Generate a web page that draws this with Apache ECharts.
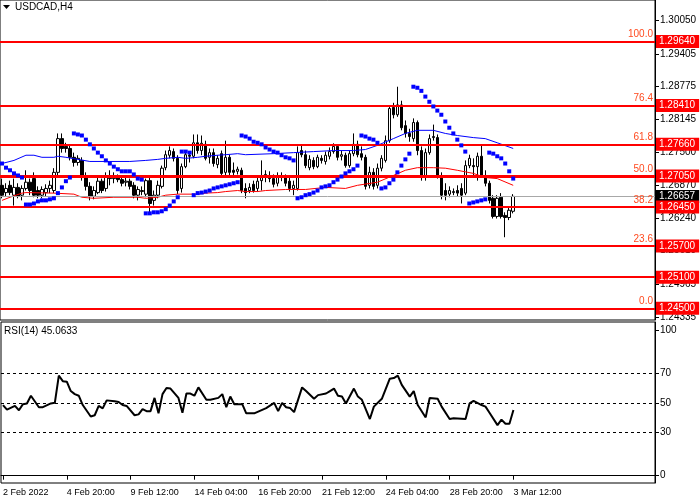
<!DOCTYPE html>
<html>
<head>
<meta charset="utf-8">
<script src="https://cdn.jsdelivr.net/npm/echarts@6/dist/echarts.min.js"></script>
<style>
html, body { margin: 0; padding: 0; background: #fff; }
#main { width: 700px; height: 500px; }
</style>
</head>
<body>
<div id="main"></div>
<script>
// USDCAD H4 bars, each [open, close, low, high]
var candles = [
  [1.2687,1.2668,1.2662,1.2700],[1.2673,1.2681,1.2666,1.2691],[1.2687,1.2673,1.2668,1.2696],[1.2668,1.2683,1.2648,1.2700],
  [1.2683,1.2666,1.2662,1.2691],[1.2668,1.2681,1.2658,1.2687],[1.2681,1.2693,1.2677,1.2716],[1.2693,1.2677,1.2668,1.2700],
  [1.2700,1.2668,1.2664,1.2712],[1.2677,1.2668,1.2662,1.2685],[1.2668,1.2679,1.2662,1.2685],[1.2673,1.2681,1.2666,1.2689],
  [1.2681,1.2687,1.2672,1.2696],[1.2677,1.2712,1.2672,1.2720],[1.2712,1.2777,1.2706,1.2787],[1.2777,1.2758,1.2750,1.2787],
  [1.2762,1.2758,1.2750,1.2769],[1.2758,1.2741,1.2735,1.2764],[1.2741,1.2731,1.2723,1.2750],[1.2731,1.2739,1.2725,1.2745],
  [1.2735,1.2702,1.2696,1.2741],[1.2704,1.2685,1.2677,1.2712],[1.2685,1.2666,1.2658,1.2693],[1.2666,1.2677,1.2660,1.2685],
  [1.2673,1.2695,1.2670,1.2706],[1.2695,1.2677,1.2672,1.2700],[1.2681,1.2704,1.2675,1.2712],[1.2702,1.2700,1.2687,1.2716],
  [1.2700,1.2702,1.2691,1.2712],[1.2702,1.2698,1.2693,1.2708],[1.2698,1.2691,1.2685,1.2704],[1.2693,1.2695,1.2685,1.2702],
  [1.2695,1.2685,1.2679,1.2700],[1.2687,1.2668,1.2662,1.2693],[1.2668,1.2679,1.2658,1.2685],[1.2675,1.2677,1.2668,1.2685],
  [1.2670,1.2696,1.2664,1.2700],[1.2696,1.2652,1.2635,1.2704],[1.2658,1.2668,1.2648,1.2677],[1.2668,1.2687,1.2662,1.2696],
  [1.2685,1.2720,1.2681,1.2725],[1.2721,1.2746,1.2716,1.2754],[1.2745,1.2754,1.2739,1.2762],[1.2752,1.2739,1.2733,1.2758],
  [1.2739,1.2677,1.2670,1.2745],[1.2681,1.2723,1.2673,1.2729],[1.2723,1.2746,1.2720,1.2750],[1.2745,1.2743,1.2731,1.2748],
  [1.2743,1.2769,1.2739,1.2785],[1.2769,1.2754,1.2748,1.2785],[1.2754,1.2768,1.2745,1.2783],[1.2766,1.2739,1.2735,1.2773],
  [1.2741,1.2750,1.2729,1.2758],[1.2750,1.2729,1.2723,1.2758],[1.2727,1.2739,1.2720,1.2745],[1.2748,1.2710,1.2704,1.2754],
  [1.2712,1.2741,1.2706,1.2773],[1.2741,1.2712,1.2706,1.2746],[1.2716,1.2712,1.2704,1.2731],[1.2714,1.2718,1.2708,1.2723],
  [1.2716,1.2677,1.2672,1.2721],[1.2681,1.2673,1.2662,1.2691],[1.2677,1.2683,1.2672,1.2691],[1.2689,1.2677,1.2673,1.2696],
  [1.2681,1.2695,1.2675,1.2706],[1.2696,1.2702,1.2677,1.2735],[1.2702,1.2708,1.2693,1.2716],[1.2706,1.2700,1.2693,1.2714],
  [1.2700,1.2689,1.2683,1.2708],[1.2691,1.2704,1.2685,1.2712],[1.2704,1.2702,1.2695,1.2712],[1.2702,1.2691,1.2685,1.2708],
  [1.2695,1.2681,1.2675,1.2702],[1.2681,1.2687,1.2668,1.2696],[1.2681,1.2750,1.2677,1.2762],[1.2754,1.2746,1.2741,1.2764],
  [1.2746,1.2725,1.2720,1.2754],[1.2721,1.2737,1.2716,1.2745],[1.2735,1.2723,1.2718,1.2741],[1.2723,1.2741,1.2720,1.2746],
  [1.2739,1.2735,1.2729,1.2745],[1.2733,1.2745,1.2727,1.2752],[1.2743,1.2752,1.2737,1.2760],[1.2752,1.2762,1.2748,1.2768],
  [1.2762,1.2741,1.2735,1.2766],[1.2743,1.2746,1.2735,1.2754],[1.2745,1.2725,1.2721,1.2750],[1.2725,1.2748,1.2721,1.2754],
  [1.2748,1.2766,1.2743,1.2787],[1.2766,1.2746,1.2741,1.2773],[1.2748,1.2741,1.2735,1.2762],[1.2741,1.2685,1.2679,1.2746],
  [1.2687,1.2712,1.2681,1.2723],[1.2712,1.2685,1.2679,1.2720],[1.2687,1.2720,1.2681,1.2729],[1.2720,1.2739,1.2714,1.2745],
  [1.2735,1.2773,1.2731,1.2783],[1.2773,1.2835,1.2769,1.2840],[1.2837,1.2823,1.2816,1.2846],[1.2823,1.2842,1.2819,1.2877],
  [1.2842,1.2798,1.2793,1.2850],[1.2802,1.2787,1.2779,1.2812],[1.2787,1.2781,1.2771,1.2796],[1.2777,1.2808,1.2771,1.2816],
  [1.2808,1.2754,1.2745,1.2812],[1.2754,1.2702,1.2696,1.2762],[1.2706,1.2750,1.2696,1.2758],[1.2750,1.2777,1.2746,1.2785],
  [1.2779,1.2781,1.2773,1.2804],[1.2779,1.2706,1.2700,1.2785],[1.2704,1.2668,1.2660,1.2712],[1.2677,1.2668,1.2658,1.2691],
  [1.2670,1.2677,1.2664,1.2685],[1.2673,1.2675,1.2668,1.2681],[1.2677,1.2672,1.2666,1.2687],[1.2681,1.2668,1.2652,1.2691],
  [1.2672,1.2725,1.2668,1.2735],[1.2725,1.2739,1.2720,1.2746],[1.2725,1.2723,1.2706,1.2739],[1.2723,1.2743,1.2696,1.2750],
  [1.2743,1.2706,1.2702,1.2764],[1.2706,1.2691,1.2685,1.2716],[1.2691,1.2658,1.2652,1.2696],[1.2662,1.2627,1.2623,1.2668],
  [1.2627,1.2662,1.2623,1.2668],[1.2664,1.2627,1.2623,1.2672],[1.2629,1.2625,1.2587,1.2635],[1.2625,1.2639,1.2620,1.2645],
  [1.2637,1.26657,1.2633,1.2670]
];

// Parabolic SAR, one value per bar
var sar = [
  1.2729,1.2721,1.2716,1.2710,1.2706,1.2702,
  1.2650,1.2650,1.2652,1.2656,1.2658,1.2658,1.2660,1.2662,1.2672,1.2683,1.2695,1.2702,
  1.2787,1.2785,1.2783,1.2775,1.2766,1.2758,1.2750,1.2743,1.2735,1.2729,1.2723,1.2718,1.2714,1.2714,1.2714,1.2708,1.2700,1.2698,
  1.2633,1.2633,1.2635,1.2635,1.2637,1.2641,1.2648,1.2656,1.2664,
  1.2752,1.2752,1.2750,
  1.2668,1.2672,1.2673,1.2675,1.2677,1.2681,1.2683,1.2685,1.2687,1.2689,1.2691,1.2693,
  1.2783,1.2781,1.2777,1.2771,1.2769,1.2766,1.2760,1.2756,1.2752,1.2750,1.2745,1.2741,1.2739,1.2735,
  1.2662,1.2664,1.2668,1.2670,1.2673,1.2677,1.2683,1.2685,1.2687,1.2693,1.2698,1.2704,1.2710,1.2714,1.2718,1.2725,
  1.2783,1.2781,1.2777,1.2775,1.2769,
  1.2681,1.2683,1.2691,1.2698,1.2712,1.2725,1.2737,1.2748,
  1.2877,1.2875,1.2869,1.2858,1.2848,1.2839,1.2831,1.2823,1.2810,1.2798,1.2787,1.2775,1.2764,1.2752,
  1.2652,1.2654,1.2656,1.2658,1.2660,
  1.2750,1.2748,1.2743,1.2739,1.2729,1.2714,1.2700
];

// envelope bands, [bar index, price]
var envUpper = [
  [0,1.2729],[3,1.2735],[6,1.2745],[8,1.2745],[10,1.2741],[13,1.2741],[14,1.2743],[16,1.2741],[19,1.2737],
  [22,1.2733],[27,1.2733],[32,1.2733],[36,1.2735],[39,1.2737],[41,1.2739],[44,1.2741],[46,1.2739],[49,1.2741],
  [51,1.2743],[54,1.2745],[56,1.2746],[59,1.2748],[61,1.2746],[68,1.2748],[73,1.2750],[78,1.2752],[83,1.2754],
  [88,1.2754],[91,1.2756],[94,1.2764],[98,1.2777],[101,1.2787],[104,1.2793],[108,1.2793],[111,1.2787],
  [114,1.2783],[118,1.2779],[121,1.2777],[124,1.2769],[128,1.2758]
];
var envLower = [
  [0,1.2658],[2,1.2664],[5,1.2672],[6,1.2673],[13,1.2672],[18,1.2670],[20,1.2664],[23,1.2662],[28,1.2664],
  [34,1.2664],[36,1.2662],[39,1.2664],[41,1.2668],[44,1.2670],[49,1.2670],[51,1.2672],[54,1.2673],[56,1.2675],
  [59,1.2677],[61,1.2675],[64,1.2675],[66,1.2677],[71,1.2679],[76,1.2679],[81,1.2683],[86,1.2681],[89,1.2687],
  [94,1.2693],[98,1.2706],[101,1.2716],[104,1.2721],[108,1.2721],[111,1.2720],[114,1.2716],[118,1.2710],
  [121,1.2702],[124,1.2700],[128,1.2687]
];

// RSI(14), [bar index, value]
var rsi = [
  [0,48.5],[1,45.3],[3,47.9],[4,44.9],[5,49.1],[6,49.6],[7,54.9],[9,47],[10,47],[12,49.6],[13,50],[14,68.7],
  [15,64.9],[16,64.5],[17,58.1],[18,56],[19,54.9],[20,48.5],[22,40.6],[23,41.5],[24,47.9],[25,46.2],[26,51.7],
  [28,51.1],[29,50.6],[30,48.5],[31,47.9],[33,41.5],[34,42.1],[35,45.7],[36,44.3],[37,44.3],[38,53.4],[39,42.8],
  [40,56],[41,60.2],[42,59.8],[44,53.4],[45,43.2],[46,56.4],[47,56.4],[48,54.9],[49,60.6],[51,52.1],[52,52.1],
  [54,53.4],[55,56],[56,47],[57,54.3],[58,49.1],[60,49.1],[61,42.8],[63,42.8],[66,46.4],[68,50],[69,44.3],[70,50],
  [71,47],[72,46.4],[73,43.6],[75,60.6],[76,58.1],[78,52.8],[79,55.3],[81,56.4],[82,58.1],[83,59.8],[84,54.9],
  [85,54.3],[86,49.6],[88,59.8],[89,54.3],[90,52.1],[92,38.9],[93,47.4],[95,52.8],[97,66.6],[98,67],[99,68.7],
  [100,62.3],[102,54.3],[103,58.1],[104,48.5],[106,40],[107,53.4],[109,52.8],[110,47.4],[112,38.9],[113,39.4],
  [116,38.9],[117,49.6],[118,51.3],[120,48.5],[121,47.4],[122,43.2],[124,34.7],[125,38.5],[126,35.7],[127,35.7],
  [128,45.0633]
];

var fibPrices = [1.29640, 1.28410, 1.27660, 1.27050, 1.26450, 1.25700, 1.25100, 1.24500];
var fibNames = ['100.0', '76.4', '61.8', '50.0', '38.2', '23.6', '', '0.0'];
var lastPrice = 1.26657;
var priceTicks = [1.30050, 1.29405, 1.28775, 1.28145, 1.27500, 1.26870, 1.26240, 1.25610, 1.24965, 1.24335];
var rsiTicks = [0, 30, 50, 70, 100];
var rsiLevels = [70, 50, 30];
var timeLabels = ['2 Feb 2022', '4 Feb 20:00', '9 Feb 12:00', '14 Feb 04:00', '16 Feb 20:00',
                  '21 Feb 12:00', '24 Feb 04:00', '28 Feb 20:00', '3 Mar 12:00'];
var labelStep = 16;
var slotCount = 164; // bars plus the empty shift on the right

var FONT = 'Liberation Sans';
var slots = [];
for (var i = 0; i < slotCount; i++) slots.push(String(i));
function isLabelSlot(idx) {
  return idx % labelStep === 0 && idx / labelStep < timeLabels.length;
}

// horizontal levels with their price boxes on the right axis
var levelLines = [{
  yAxis: lastPrice,
  lineStyle: { color: '#a8a8a8', width: 1, type: 'solid' },
  label: { show: true, position: 'end', distance: 1, formatter: lastPrice.toFixed(5),
    backgroundColor: '#000', color: '#fff', padding: [2, 4, 1, 3], fontFamily: FONT, fontSize: 10 }
}].concat(fibPrices.map(function (p, k) {
  return {
    yAxis: p,
    lineStyle: { color: '#ff0000', width: k === 3 ? 3 : 2, type: 'solid' },
    label: {
      show: true, position: 'end', distance: 1, formatter: p.toFixed(5),
      backgroundColor: '#ff0000', color: '#fff', padding: [2, 4, 1, 3],
      fontFamily: FONT, fontSize: 10
    }
  };
}));
// level percentages, written just above each line (line drawn over the same red level)
var levelTags = [];
fibPrices.forEach(function (p, k) {
  if (fibNames[k] === '') return;
  levelTags.push({
    yAxis: p,
    lineStyle: { color: '#ff0000', width: 2, type: 'solid' },
    label: {
      show: true, position: 'insideEndTop', distance: 2, formatter: fibNames[k],
      color: '#ff4a1f', fontFamily: FONT, fontSize: 10
    }
  });
});

var option = {
  animation: false,
  backgroundColor: '#fff',
  textStyle: { fontFamily: FONT },
  graphic: [
    { type: 'polygon', shape: { points: [[3, 5], [10, 5], [6.5, 9]] }, style: { fill: '#000' } },
    { type: 'text', left: 15, top: 2, style: { text: 'USDCAD,H4', font: '10px "Liberation Sans"', fill: '#000' } },
    { type: 'text', left: 4, top: 326, style: { text: 'RSI(14) ' + rsi[rsi.length - 1][1].toFixed(4), font: '10px "Liberation Sans"', fill: '#000' } }
  ],
  grid: [
    { left: -1, right: 45, top: -1, bottom: 180, show: true, borderColor: '#000', borderWidth: 1 },
    { left: -1, right: 45, top: 322, bottom: 17, show: true, borderColor: '#000', borderWidth: 1 }
  ],
  xAxis: [
    { type: 'category', gridIndex: 0, data: slots, boundaryGap: true,
      axisLine: { show: false }, axisTick: { show: false }, axisLabel: { show: false }, splitLine: { show: false } },
    { type: 'category', gridIndex: 1, data: slots, boundaryGap: true,
      axisLine: { show: true, lineStyle: { color: '#000' } },
      axisTick: { show: true, alignWithLabel: true, length: 4, interval: function (idx) { return isLabelSlot(idx); }, lineStyle: { color: '#000' } },
      axisLabel: {
        show: true, interval: function (idx) { return isLabelSlot(idx); }, align: 'left', margin: 5,
        color: '#000', fontSize: 9, fontFamily: FONT,
        formatter: function (v, idx) { return isLabelSlot(idx) ? timeLabels[idx / labelStep] : ''; }
      },
      splitLine: { show: false } }
  ],
  yAxis: [
    { type: 'value', gridIndex: 0, position: 'right', min: 1.24275, max: 1.30441,
      axisLine: { show: true, lineStyle: { color: '#000' } },
      axisTick: { show: true, length: 4, customValues: priceTicks, lineStyle: { color: '#000' } },
      axisLabel: { show: true, customValues: priceTicks, margin: 5, color: '#000', fontSize: 10, fontFamily: FONT,
        formatter: function (v) { return v.toFixed(5); } },
      splitLine: { show: false } },
    { type: 'value', gridIndex: 1, position: 'right', min: -5.01, max: 105.49,
      axisLine: { show: true, lineStyle: { color: '#000' } },
      axisTick: { show: true, length: 4, customValues: rsiTicks, lineStyle: { color: '#000' } },
      axisLabel: { show: true, customValues: rsiTicks, margin: 5, color: '#000', fontSize: 10, fontFamily: FONT },
      splitLine: { show: false } }
  ],
  series: [
    {
      name: 'USDCAD', type: 'candlestick', xAxisIndex: 0, yAxisIndex: 0, data: candles, barWidth: 3,
      itemStyle: { color: '#fff', color0: '#000', borderColor: '#000', borderColor0: '#000', borderColorDoji: '#000', borderWidth: 1 },
      markLine: { silent: true, precision: 5, symbol: ['none', 'none'], data: levelLines }
    },
    {
      name: 'env upper', type: 'line', xAxisIndex: 0, yAxisIndex: 0, data: envUpper,
      symbol: 'none', lineStyle: { color: '#0000ff', width: 1 }
    },
    {
      name: 'env lower', type: 'line', xAxisIndex: 0, yAxisIndex: 0, data: envLower,
      symbol: 'none', lineStyle: { color: '#ff0000', width: 1 }
    },
    {
      name: 'SAR', type: 'scatter', xAxisIndex: 0, yAxisIndex: 0, data: sar, z: 5,
      symbol: 'rect', symbolSize: [4, 4], itemStyle: { color: '#0000ff', opacity: 1 },
      markLine: { silent: true, precision: 5, symbol: ['none', 'none'], data: levelTags }
    },
    {
      name: 'RSI', type: 'line', xAxisIndex: 1, yAxisIndex: 1, data: rsi,
      symbol: 'none', lineStyle: { color: '#000', width: 2 },
      markLine: {
        silent: true, symbol: ['none', 'none'], label: { show: false },
        lineStyle: { color: '#000', width: 1, type: [3, 3] },
        data: rsiLevels.map(function (v) { return { yAxis: v }; })
      }
    }
  ]
};

var myChart = echarts.init(document.getElementById('main'));
myChart.setOption(option);
</script>
</body>
</html>
